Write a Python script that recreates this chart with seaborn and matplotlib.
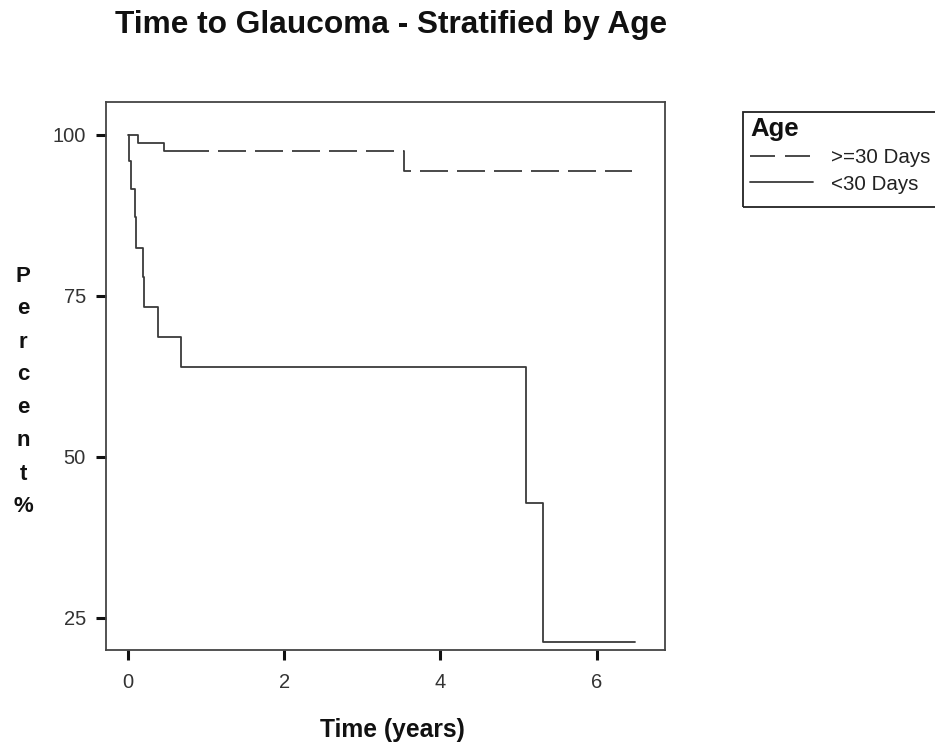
import numpy as np
import pandas as pd
import seaborn as sns
import matplotlib
matplotlib.use("Agg")
import matplotlib.pyplot as plt
from matplotlib.lines import Line2D
from matplotlib.patches import Rectangle

# ---- data ----
groups = [">=30 Days", "<30 Days"]
older_time = [0.0, 0.13, 0.46, 3.53, 6.45]
older_pct = [100.0, 98.8, 97.5, 94.4, 94.4]
younger_time = [0.0, 0.01, 0.035, 0.09, 0.11, 0.19, 0.21, 0.39, 0.68, 5.10, 5.31, 6.49]
younger_pct = [100.0, 95.9, 91.6, 87.2, 82.5, 77.9, 73.3, 68.6, 64.0, 42.9, 21.3, 21.3]
x_ticks = [0, 2, 4, 6]
y_ticks = [25, 50, 75, 100]
title = "Time to Glaucoma - Stratified by Age"
x_label = "Time (years)"
y_label = "Percent%"
legend_title = "Age"

sns.set_theme(style="white")
plt.rcParams["font.family"] = ["Liberation Sans", "DejaVu Sans"]

W, H = 935, 744
fig = plt.figure(figsize=(W / 100, H / 100), dpi=100)
L, R, T, B = 106, 665, 102, 650
ax = fig.add_axes([L / W, 1 - B / H, (R - L) / W, (B - T) / H])

line_col = "#3a3a3a"
LW = 1.3
px = 0.72 / LW  # pixel -> dash units (dashes scale with linewidth)
main_dash = (0, [v * px for v in [97, 9] + [28, 9] * 25])
leg_dash = (0, [25 * px, 10 * px])

df_old = pd.DataFrame({"time": older_time, "pct": older_pct})
df_young = pd.DataFrame({"time": younger_time, "pct": younger_pct})

sns.lineplot(data=df_old, x="time", y="pct", ax=ax, estimator=None, sort=False,
             drawstyle="steps-post", color=line_col, linewidth=LW, linestyle=main_dash)
sns.lineplot(data=df_young, x="time", y="pct", ax=ax, estimator=None, sort=False,
             drawstyle="steps-post", color=line_col, linewidth=LW, linestyle="-")

ax.set_xlim(-0.28, (R - 128) / 78.1)
ax.set_ylim(20.0, 105.1)
ax.set_xticks(x_ticks)
ax.set_yticks(y_ticks)
ax.set_xticklabels([str(v) for v in x_ticks])
ax.set_yticklabels([str(v) for v in y_ticks])
ax.tick_params(axis="both", direction="out", length=7.5, width=2.2, color="#111111",
               labelsize=14.5, labelcolor="#333333")
ax.tick_params(axis="x", pad=9)
ax.tick_params(axis="y", pad=7)
ax.tick_params(bottom=True, left=True, top=False, right=False)
for s in ax.spines.values():
    s.set_color("#444444")
    s.set_linewidth(1.3)
ax.set_xlabel("")
ax.set_ylabel("")

# title
fig.text(115 / W, 1 - 33 / H, title, fontsize=22.8, fontweight="bold",
         ha="left", va="baseline", color="#111111")
# x label
fig.text(392 / W, 1 - 737 / H, x_label, fontsize=17.7, fontweight="bold",
         ha="center", va="baseline", color="#111111")
# stacked y label
y0, step = 276, 33
for i, ch in enumerate(y_label):
    fig.text(23 / W, 1 - (y0 + i * step) / H, ch, fontsize=16, fontweight="bold",
             ha="center", va="center", color="#111111")

# legend
handles = [Line2D([], [], color=line_col, linewidth=LW, linestyle=leg_dash),
           Line2D([], [], color=line_col, linewidth=LW, linestyle="-")]
leg = ax.legend(handles, groups, title=legend_title, loc="upper left",
                bbox_to_anchor=(744 / W, 1 - 111 / H), bbox_transform=fig.transFigure,
                borderaxespad=0, frameon=False, fontsize=14.8,
                title_fontproperties={"weight": "bold", "size": 18.5},
                handlelength=3.06, handletextpad=0.85, labelspacing=0.35,
                borderpad=0.3, alignment="left")
for t in leg.get_texts():
    t.set_color("#222222")
leg.get_title().set_color("#111111")
leg.set_clip_on(False)
fig.patches.append(Rectangle((742.7 / W, 1 - 207 / H), 300 / W, (207 - 111.7) / H,
                             transform=fig.transFigure, fill=False,
                             edgecolor="#222222", linewidth=1.3, clip_on=False))

fig.savefig("out.png", dpi=100)
